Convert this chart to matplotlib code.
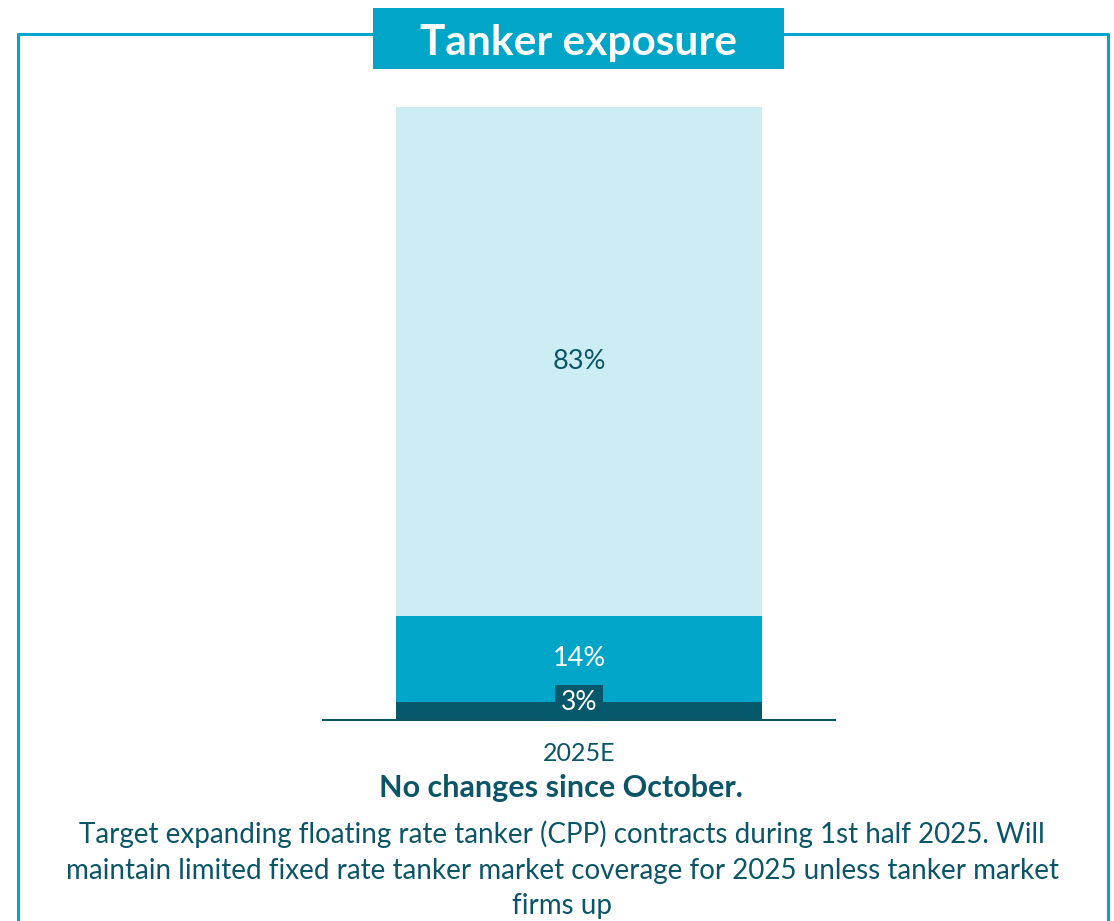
import matplotlib
matplotlib.use("Agg")
import matplotlib.pyplot as plt
from matplotlib.patches import Rectangle
from matplotlib.lines import Line2D

# exposure split for the single year, bottom to top
category = "2025E"
shares = [3, 14, 83]
seg_colors = ["#05576b", "#00a5c8", "#cdedf4"]
label_colors = ["white", "white", "#0b5566"]

title = "Tanker exposure"
headline = "No changes since October."
note = ("Target expanding floating rate tanker (CPP) contracts during 1st half 2025. Will\n"
        "maintain limited fixed rate tanker market coverage for 2025 unless tanker market\n"
        "firms up")

W, H = 1114, 921
teal = "#00a5c8"
dark = "#0b5566"
plt.rcParams["font.family"] = ["Lato", "DejaVu Sans"]

fig = plt.figure(figsize=(W / 100, H / 100), dpi=100)

def fx(px):
    return px / W

def fy(py):
    return 1 - py / H

# outer frame (left, top, right; open at the bottom)
frame = Line2D([fx(18), fx(18), fx(1108), fx(1108)],
               [fy(930), fy(34), fy(34), fy(930)],
               transform=fig.transFigure, color=teal, lw=2.2, zorder=1)
fig.add_artist(frame)

# title tab
fig.add_artist(Rectangle((fx(373), fy(69)), fx(784) - fx(373), fy(8) - fy(69),
                         transform=fig.transFigure, facecolor=teal, edgecolor="white",
                         lw=0, zorder=2))
fig.text(fx(579), fy(39), title, color="white", fontsize=30.5, fontweight="bold",
         ha="center", va="center_baseline", zorder=3)

# bar axes
ax = fig.add_axes([fx(323), fy(720), fx(835) - fx(323), fy(107) - fy(720)])
ax.set_xlim(-0.7, 0.7)
ax.set_ylim(0, 100)
bar_w = 1.0
bottom = 0
for val, col, tcol in zip(shares, seg_colors, label_colors):
    ax.bar(0, val, width=bar_w, bottom=bottom, color=col, zorder=2)
    if val < 5:
        # small segment: label sits on its own box, poking above the segment
        ax.text(0, bottom + val - 0.2, f"{val}%", color=tcol, fontsize=19,
                ha="center", va="center", zorder=4,
                bbox=dict(boxstyle="square,pad=0.2", facecolor=col, edgecolor="none"))
    else:
        ax.text(0, bottom + val / 2, f"{val}%", color=tcol, fontsize=19.5,
                ha="center", va="center", zorder=4)
    bottom += val

ax.set_xticks([0])
ax.set_xticklabels([category], fontsize=18, color=dark)
ax.tick_params(axis="x", length=0, pad=16)
ax.set_yticks([])
for side in ["top", "left", "right"]:
    ax.spines[side].set_visible(False)
ax.spines["bottom"].set_color(dark)
ax.spines["bottom"].set_linewidth(1.5)
ax.set_facecolor("none")

fig.text(fx(561), fy(788), headline, color=dark, fontsize=22, fontweight="bold",
         ha="center", va="center")
fig.text(fx(562), fy(870), note, color=dark, fontsize=20, ha="center", va="center",
         linespacing=1.45)

fig.savefig("out.png", dpi=100)
